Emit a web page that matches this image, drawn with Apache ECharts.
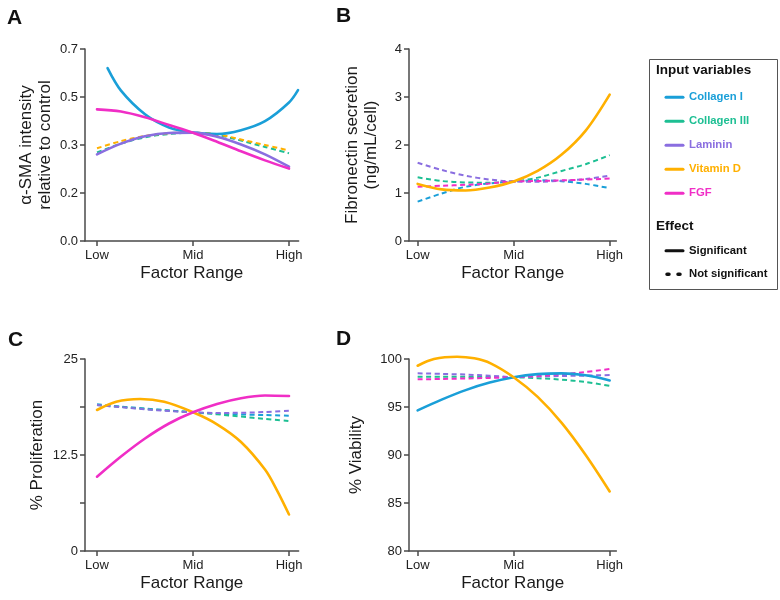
<!DOCTYPE html>
<html><head><meta charset="utf-8">
<script src="https://cdn.jsdelivr.net/npm/echarts@6/dist/echarts.min.js"></script>
<style>html,body{margin:0;padding:0;background:#fff}#c{width:780px;height:600px}</style>
</head><body><div id="c"></div>
<script>
// ---------- data ----------
const seriesNames = ['Collagen I', 'Collagen III', 'Laminin', 'Vitamin D', 'FGF'];
const seriesColors = ['#1a9fd8', '#1dbf93', '#8a6ee0', '#ffb000', '#f02ec6'];
const xTickValues = [-1, 0, 1];
const xTickLabels = ['Low', 'Mid', 'High'];
const xGrid = [-1, -0.75, -0.5, -0.25, 0, 0.25, 0.5, 0.75, 1];

// Panel A: alpha-SMA intensity
const aTickLabels = ['0.0', '0.2', '0.3', '0.5', '0.7'];
const aXCollagenI = [-0.89, -0.75, -0.5, -0.25, 0, 0.25, 0.5, 0.75, 1, 1.094];
const aCollagenI = [0.630, 0.548, 0.462, 0.414, 0.395, 0.390, 0.404, 0.437, 0.505, 0.550];
const aCollagenIII = [0.323, 0.355, 0.378, 0.390, 0.395, 0.387, 0.366, 0.343, 0.320];
const aLaminin = [0.316, 0.355, 0.382, 0.394, 0.395, 0.380, 0.352, 0.316, 0.271];
const aVitaminD = [0.338, 0.364, 0.383, 0.393, 0.395, 0.389, 0.370, 0.350, 0.330];
const aFGF = [0.480, 0.472, 0.451, 0.423, 0.395, 0.362, 0.327, 0.294, 0.264];
const aSignificant = [true, false, true, false, true];

// Panel B: fibronectin secretion
const bCollagenI = [0.82, 0.99, 1.13, 1.20, 1.24, 1.265, 1.245, 1.19, 1.10];
const bCollagenIII = [1.326, 1.25, 1.22, 1.215, 1.24, 1.32, 1.46, 1.60, 1.79];
const bLaminin = [1.63, 1.48, 1.36, 1.28, 1.24, 1.235, 1.255, 1.29, 1.36];
const bVitaminD = [1.19, 1.075, 1.052, 1.115, 1.24, 1.46, 1.80, 2.30, 3.05];
const bFGF = [1.13, 1.15, 1.17, 1.20, 1.24, 1.25, 1.265, 1.28, 1.30];
const bSignificant = [false, false, false, true, false];

// Panel C: % proliferation
const cTickLabels = ['0', '', '12.5', '', '25'];
const cXVitaminD = [-1, -0.8, -0.55, -0.3, 0, 0.25, 0.5, 0.75, 0.875, 1];
const cCollagenI = [19.1, 18.8, 18.55, 18.3, 18.06, 17.9, 17.78, 17.7, 17.62];
const cCollagenIII = [19.0, 18.75, 18.5, 18.28, 18.06, 17.8, 17.5, 17.2, 16.93];
const cLaminin = [19.0, 18.72, 18.45, 18.22, 18.06, 17.98, 18.0, 18.1, 18.27];
const cVitaminD = [18.36, 19.44, 19.79, 19.42, 18.06, 16.5, 14.2, 10.6, 7.9, 4.75];
const cFGF = [9.67, 12.3, 14.65, 16.6, 18.06, 19.15, 19.9, 20.25, 20.18];
const cSignificant = [false, false, false, true, true];

// Panel D: % viability
const dXVitaminD = [-1, -0.83, -0.59, -0.41, -0.24, 0, 0.25, 0.5, 0.75, 1];
const dCollagenI = [94.65, 95.77, 96.76, 97.54, 98.1, 98.42, 98.5, 98.3, 97.77];
const dCollagenIII = [98.16, 98.15, 98.14, 98.12, 98.1, 98.0, 97.85, 97.6, 97.2];
const dLaminin = [98.51, 98.45, 98.38, 98.26, 98.12, 98.18, 98.23, 98.27, 98.33];
const dVitaminD = [99.3, 100.0, 100.24, 100.07, 99.55, 98.1, 96.05, 93.35, 90.0, 86.2];
const dFGF = [97.88, 97.92, 97.97, 98.03, 98.1, 98.22, 98.42, 98.65, 98.96];
const dSignificant = [true, false, false, true, false];

const panelLetters = ['A', 'B', 'C', 'D'];
const yAxisNames = ['α-SMA intensity\nrelative to control', 'Fibronectin secretion\n(ng/mL/cell)', '% Proliferation', '% Viability'];
const xAxisName = 'Factor Range';
const legendTitle = 'Input variables';
const effectTitle = 'Effect';
const effectLabels = ['Significant', 'Not significant'];

// ---------- chart ----------
const FONT = 'Liberation Sans, Arial, Helvetica, sans-serif';
const AXIS_COLOR = '#4a4a4a';
const gridsDef = [
  { left: 85, top: 49, width: 213.6, height: 192 },
  { left: 409, top: 49, width: 207.4, height: 192 },
  { left: 85, top: 359, width: 213.6, height: 192 },
  { left: 409, top: 359, width: 207.4, height: 192 }
];
const xRanges = [[-1.125, 1.1], [-1.09, 1.07], [-1.125, 1.1], [-1.09, 1.07]];
const yRanges = [
  { min: 0, max: 0.7, interval: 0.175, labels: aTickLabels },
  { min: 0, max: 4, interval: 1 },
  { min: 0, max: 25, interval: 6.25, labels: cTickLabels },
  { min: 80, max: 100, interval: 5 }
];
const nameGaps = [30, 28, 38, 43];

const panelSeries = [
  { xs: [aXCollagenI, xGrid, xGrid, xGrid, xGrid], vals: [aCollagenI, aCollagenIII, aLaminin, aVitaminD, aFGF], sig: aSignificant },
  { xs: [xGrid, xGrid, xGrid, xGrid, xGrid], vals: [bCollagenI, bCollagenIII, bLaminin, bVitaminD, bFGF], sig: bSignificant },
  { xs: [xGrid, xGrid, xGrid, cXVitaminD, xGrid], vals: [cCollagenI, cCollagenIII, cLaminin, cVitaminD, cFGF], sig: cSignificant },
  { xs: [xGrid, xGrid, xGrid, dXVitaminD, xGrid], vals: [dCollagenI, dCollagenIII, dLaminin, dVitaminD, dFGF], sig: dSignificant }
];

const xAxes = gridsDef.map((g, i) => ({
  type: 'value', gridIndex: i, min: xRanges[i][0], max: xRanges[i][1],
  name: xAxisName, nameLocation: 'middle', nameGap: 24,
  nameTextStyle: { fontSize: 17, color: '#1a1a1a', fontFamily: FONT },
  axisLine: { show: true, onZero: false, lineStyle: { color: AXIS_COLOR, width: 1.5 } },
  axisTick: { show: true, length: 5, customValues: xTickValues, lineStyle: { color: AXIS_COLOR, width: 1.5 } },
  axisLabel: {
    customValues: xTickValues, margin: 8, fontSize: 13, color: '#222', fontFamily: FONT,
    formatter: v => xTickLabels[xTickValues.indexOf(Math.round(v))] || ''
  },
  splitLine: { show: false }
}));

const yAxes = gridsDef.map((g, i) => {
  const r = yRanges[i];
  return {
    type: 'value', gridIndex: i, min: r.min, max: r.max, interval: r.interval,
    name: yAxisNames[i], nameLocation: 'middle', nameGap: nameGaps[i], nameRotate: 90,
    nameTextStyle: { fontSize: 17, color: '#1a1a1a', fontFamily: FONT, lineHeight: 19, align: 'center' },
    axisLine: { show: true, onZero: false, lineStyle: { color: AXIS_COLOR, width: 1.5 } },
    axisTick: { show: true, length: 5, lineStyle: { color: AXIS_COLOR, width: 1.5 } },
    axisLabel: {
      margin: 7, fontSize: 13, color: '#222', fontFamily: FONT,
      formatter: r.labels ? (v => r.labels[Math.round((v - r.min) / r.interval)]) : (v => String(v))
    },
    splitLine: { show: false }
  };
});

const series = [];
panelSeries.forEach((p, gi) => {
  const order = [0, 1, 2, 3, 4].sort((a, b) => (p.sig[a] ? 1 : 0) - (p.sig[b] ? 1 : 0));
  order.forEach(si => {
    const solid = p.sig[si];
    series.push({
      type: 'line', name: seriesNames[si], xAxisIndex: gi, yAxisIndex: gi,
      data: p.xs[si].map((x, k) => [x, p.vals[si][k]]),
      smooth: 0.33, showSymbol: false, symbol: 'none', silent: true, clip: false,
      lineStyle: solid
        ? { color: seriesColors[si], width: 2.6, type: 'solid', cap: 'round' }
        : { color: seriesColors[si], width: 2, type: [5, 3.5] },
      z: solid ? 3 : 2
    });
  });
});

const titles = panelLetters.map((t, i) => ({
  text: t, left: [2, 331, 3, 331][i], top: [3, 1, 325, 324][i],
  textStyle: { fontSize: 21, fontWeight: 'bold', color: '#111', fontFamily: FONT }
}));

const LX = 649, LY = 59;
const legendEls = [
  { type: 'rect', shape: { x: LX + 0.5, y: LY + 0.5, width: 128, height: 230 }, style: { fill: '#fff', stroke: '#555', lineWidth: 1 } },
  { type: 'text', x: 656, y: 70, style: { text: legendTitle, font: 'bold 13.5px ' + FONT, fill: '#111', verticalAlign: 'middle' } }
];
seriesNames.forEach((n, i) => {
  const cy = 97.3 + i * 24;
  legendEls.push({ type: 'line', shape: { x1: 666, y1: cy, x2: 683, y2: cy }, style: { stroke: seriesColors[i], lineWidth: 3, lineCap: 'round' } });
  legendEls.push({ type: 'text', x: 689, y: cy, style: { text: n, font: 'bold 11.3px ' + FONT, fill: seriesColors[i], verticalAlign: 'middle' } });
});
legendEls.push({ type: 'text', x: 656, y: 226, style: { text: effectTitle, font: 'bold 13.5px ' + FONT, fill: '#111', verticalAlign: 'middle' } });
legendEls.push({ type: 'line', shape: { x1: 666, y1: 250.7, x2: 683, y2: 250.7 }, style: { stroke: '#111', lineWidth: 3, lineCap: 'round' } });
legendEls.push({ type: 'text', x: 689, y: 250.7, style: { text: effectLabels[0], font: 'bold 11.3px ' + FONT, fill: '#111', verticalAlign: 'middle' } });
legendEls.push({ type: 'line', shape: { x1: 667, y1: 274.3, x2: 683, y2: 274.3 }, style: { stroke: '#111', lineWidth: 3.5, lineCap: 'round', lineDash: [2, 9] } });
legendEls.push({ type: 'text', x: 689, y: 274.3, style: { text: effectLabels[1], font: 'bold 11.3px ' + FONT, fill: '#111', verticalAlign: 'middle' } });

const chart = echarts.init(document.getElementById('c'), null, { renderer: 'canvas' });
chart.setOption({
  backgroundColor: '#fff',
  animation: false,
  textStyle: { fontFamily: FONT },
  title: titles,
  grid: gridsDef.map(g => Object.assign({ containLabel: false }, g)),
  xAxis: xAxes,
  yAxis: yAxes,
  series: series,
  graphic: { elements: legendEls }
});
</script>
</body></html>
